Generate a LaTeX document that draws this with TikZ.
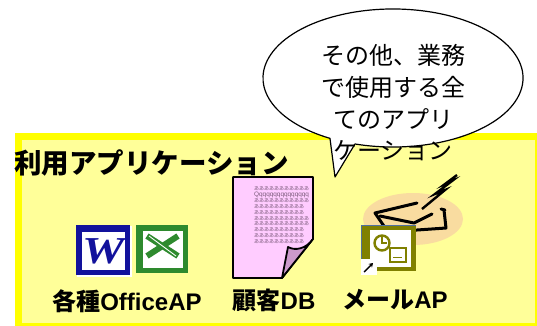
\documentclass[tikz,border=0pt]{standalone}
\usepackage{fontspec}
\setmainfont{Liberation Sans}
\newfontfamily\jp{Noto Sans CJK JP}
\newfontfamily\wfont{Liberation Serif}
\usetikzlibrary{arrows.meta}

\definecolor{panelfill}{HTML}{FFFF99}
\definecolor{panelrim}{HTML}{FFFF00}
\definecolor{wordblue}{HTML}{12129C}
\definecolor{xlgreen}{HTML}{2E8A2E}
\definecolor{pagefill}{HTML}{FFCCFF}
\definecolor{curlfill}{HTML}{CC99CC}
\definecolor{memotext}{HTML}{7A5A7A}
\definecolor{peach}{HTML}{F9DCA0}
\definecolor{olive}{HTML}{808000}
\definecolor{edgeblue}{HTML}{4F6F9F}

\begin{document}
\begin{tikzpicture}[x=1pt,y=1pt,
  paneltitle/.style={font=\jp\bfseries\fontsize{27.5}{30}\selectfont, inner sep=0, anchor=west},
  applabel/.style={font=\bfseries\fontsize{24}{28}\selectfont, inner sep=0},
  bubbletext/.style={font=\jp\fontsize{24}{28}\selectfont, inner sep=0},
  memo/.style={font=\jp\fontsize{5}{5}\selectfont, text=memotext, inner sep=0, anchor=west},
  memolatin/.style={font=\fontsize{6.4}{6.4}\selectfont, text=memotext, inner sep=0, anchor=west},
  envline/.style={line width=3pt, line join=round, line cap=round},
  bubble/.style={draw=black, fill=white, line width=1.2pt, line join=round}]
\useasboundingbox (0,0) rectangle (537,325);

% application panel
\draw[panelrim, fill=panelfill, line width=7pt] (18.5,-1.2) rectangle (538.5,188.5);
\node[paneltitle] (title) at (14,162) {利用アプリケーション};

% Word icon
\fill[wordblue] (76,50) rectangle (130,100);
\fill[white] (82,55) rectangle (125,93);
\draw[white, line width=1.5pt] (77,49) -- (131,49) -- (131,99);
\node[font=\wfont\bfseries\itshape\fontsize{38}{38}\selectfont, text=wordblue, inner sep=0,
      xscale=1.25, transform shape] (wordW) at (103.5,74) {W};

% Excel icon
\fill[xlgreen] (136,52) rectangle (188,100);
\fill[white] (143,57) rectangle (183,94);
\draw[xlgreen, line width=6pt] (147,89) -- (178,69);
\draw[xlgreen, line width=6pt] (147,69) -- (178,89);
\draw[white, line width=0.9pt] (149,89) -- (176,69);

\node[applabel] (office) at (127,24) {{\jp 各種}OfficeAP};

% customer database sheet
\draw[fill=pagefill, line width=1.8pt, line join=round] (233,148) -- (313,148) -- (313,86) -- (282,47) -- (233,47) -- cycle;
\node[memo] (m1) at (254,136) {あああああああああああ};
\node[memolatin] (m2) at (254,130) {Qqqqqqqqqqqqqqq};
\node[memo] (m3) at (254,124.2) {あああああああああああ};
\node[memo] (m4) at (254,118.4) {ああああああああああ};
\node[memo] (m5) at (254,112.6) {ああああああああああ};
\node[memo] (m6) at (254,106.8) {あああああああああああ};
\node[memo] (m7) at (254,101) {あああああああああああ};
\node[memo] (m8) at (254,95.2) {ああああああああああ};
\node[memo] (m9) at (254,89.4) {ああああああああああ};
\node[memo] (m10) at (254,83.6) {ああああああああああ};
\draw[fill=curlfill, line width=1.8pt, line join=round] (282,47) -- (288,78) .. controls (295,74) and (306,76) .. (313,86) -- cycle;

\node[applabel] (db) at (274,25) {{\jp 顧客}DB};

% mail application: open envelope with a lightning bolt
\fill[peach] (413,106) ellipse [x radius=50pt, y radius=26pt];
\draw[envline] (417,122) -- (375,112) -- (388,93) -- (446,97) -- (444,115);
\draw[envline] (380,109) -- (414,102) -- (432,111);
\draw[envline] (441,116) -- (445,115);
\draw[line width=2.4pt, line join=miter] (422,116) -- (445,135) -- (435,131) -- (452,144) -- (445,141) -- (457,150);

% Outlook shortcut
\fill[olive] (361,54) rectangle (416,100);
\draw[edgeblue, line width=1.5pt] (361.7,54) -- (361.7,99.3) -- (416,99.3);
\fill[white] (370,58) rectangle (411,95);
\draw[olive, line width=2.4pt, fill=white] (382,82) circle [radius=7.5pt];
\draw[olive, line width=1.8pt] (382,88) -- (382,82) -- (387,82);
\draw[olive, line width=2pt] (390,63) rectangle (406,77);
\draw[olive, line width=1.6pt] (393,67.5) -- (402,67.5);
\fill[white] (361,50) rectangle (377,66);
\draw[black, line width=1.4pt, -{Stealth[length=4pt,width=5pt]}] (364,53) -- (373,62);

\node[applabel] (mail) at (395,25) {{\jp メール}AP};

% speech bubble
\coordinate (tip) at (335,148);
\path[bubble] (393,247) ++(253:130pt and 69pt)
  arc[start angle=253, end angle=601, x radius=130pt, y radius=69pt] -- (tip) -- cycle;
\node[bubbletext] (b1) at (393,270) {その他、業務};
\node[bubbletext] (b2) at (393,238) {で使用する全};
\node[bubbletext] (b3) at (393,206) {てのアプリ};
\node[bubbletext] (b4) at (393,174) {ケーション};
\end{tikzpicture}
\end{document}
